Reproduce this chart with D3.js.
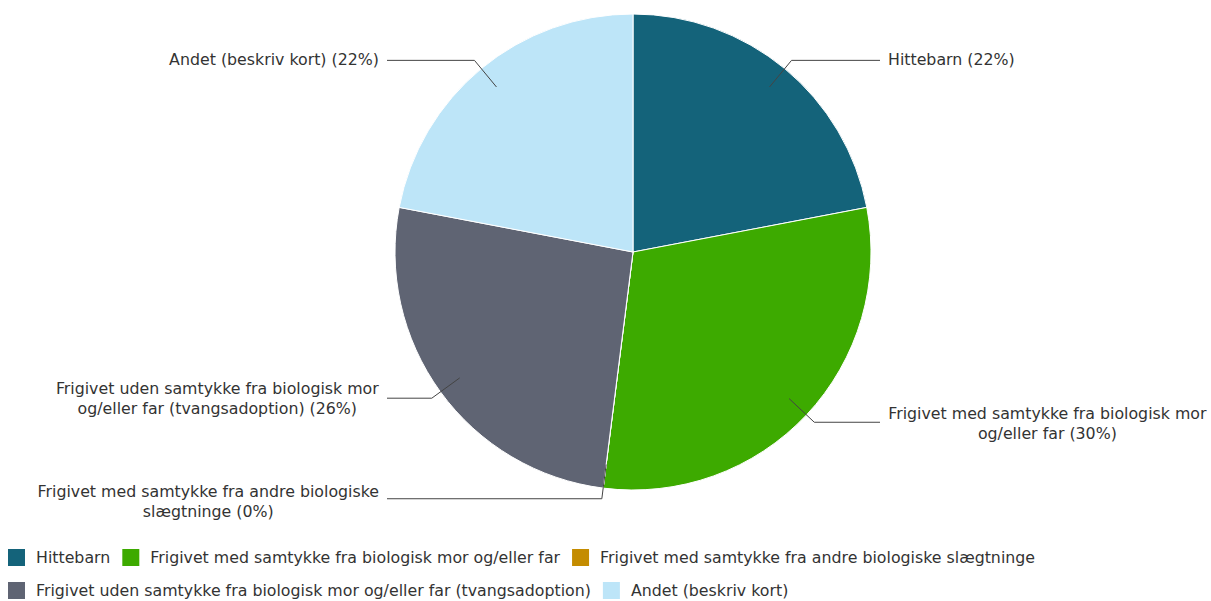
<!DOCTYPE html>
<html><head><meta charset="utf-8">
<script src="https://cdn.jsdelivr.net/npm/d3@7"></script>
<style>
body{margin:0;background:#fff;}
svg text{font-family:"DejaVu Sans",Verdana,sans-serif;font-size:15.8px;fill:#333;}
</style></head>
<body><svg id="chart" width="1211" height="601"></svg>
<script>
const categories = [
  "Hittebarn",
  "Frigivet med samtykke fra biologisk mor og/eller far",
  "Frigivet med samtykke fra andre biologiske slægtninge",
  "Frigivet uden samtykke fra biologisk mor og/eller far (tvangsadoption)",
  "Andet (beskriv kort)"
];
const values = [22, 30, 0, 26, 22];
const colors = ["#14637a", "#3daa00", "#c48c00", "#5f6473", "#bde5f8"];
const labelLines = [
  ["Hittebarn (22%)"],
  ["Frigivet med samtykke fra biologisk mor", "og/eller far (30%)"],
  ["Frigivet med samtykke fra andre biologiske", "slægtninge (0%)"],
  ["Frigivet uden samtykke fra biologisk mor", "og/eller far (tvangsadoption) (26%)"],
  ["Andet (beskriv kort) (22%)"]
];

const svg = d3.select("#chart");
const cx = 633, cy = 252, R = 238;
const g = svg.append("g").attr("transform", `translate(${cx},${cy})`);

const data = categories.map((c, i) => ({cat: c, value: values[i], i}));
const pie = d3.pie().value(d => d.value).sort(null);
const arcs = pie(data);
const arc = d3.arc().innerRadius(0).outerRadius(R);

g.selectAll("path.slice").data(arcs).enter().append("path")
  .attr("class", "slice")
  .attr("d", arc)
  .attr("fill", d => colors[d.data.i])
  .attr("stroke", "#fff").attr("stroke-width", 1);

const pt = (a, r) => [r * Math.sin(a), -r * Math.cos(a)];
const labelOffsetY = [0, 2, 3, 1, 0];
arcs.forEach(d => {
  const a = (d.startAngle + d.endAngle) / 2;
  const p0 = pt(a, R * 0.9);
  const p1 = pt(a, R * 1.045);
  const isRight = a < Math.PI;
  const xEnd = isRight ? 880 - cx : 387 - cx;
  g.append("polyline")
    .attr("points", [p0, p1, [xEnd, p1[1]]].map(p => p.join(",")).join(" "))
    .attr("fill", "none").attr("stroke", "#444").attr("stroke-width", 1);
  const lines = labelLines[d.data.i];
  const t = g.append("text").attr("text-anchor", "middle");
  const lh = 20;
  const startY = p1[1] - (lines.length - 1) * lh / 2 + 5 + labelOffsetY[d.data.i];
  lines.forEach((ln, k) => {
    t.append("tspan").attr("x", 0).attr("y", startY + k * lh).text(ln);
  });
  const w = t.node().getBBox().width;
  const centerX = isRight ? xEnd + 8 + w / 2 : xEnd - 8 - w / 2;
  t.selectAll("tspan").attr("x", centerX);
});

// legend
const legend = svg.append("g");
let x = 8, y = 558;
const maxW = 1205;
data.forEach((d, i) => {
  const item = legend.append("g");
  item.append("rect").attr("width", 17).attr("height", 17).attr("y", -9).attr("fill", colors[i]);
  const tx = item.append("text").attr("x", 28).attr("y", 5).text(d.cat);
  const w = 28 + tx.node().getComputedTextLength() + 12;
  if (x + w > maxW) { x = 8; y += 33; }
  item.attr("transform", `translate(${x},${y})`);
  x += w;
});
</script></body></html>
